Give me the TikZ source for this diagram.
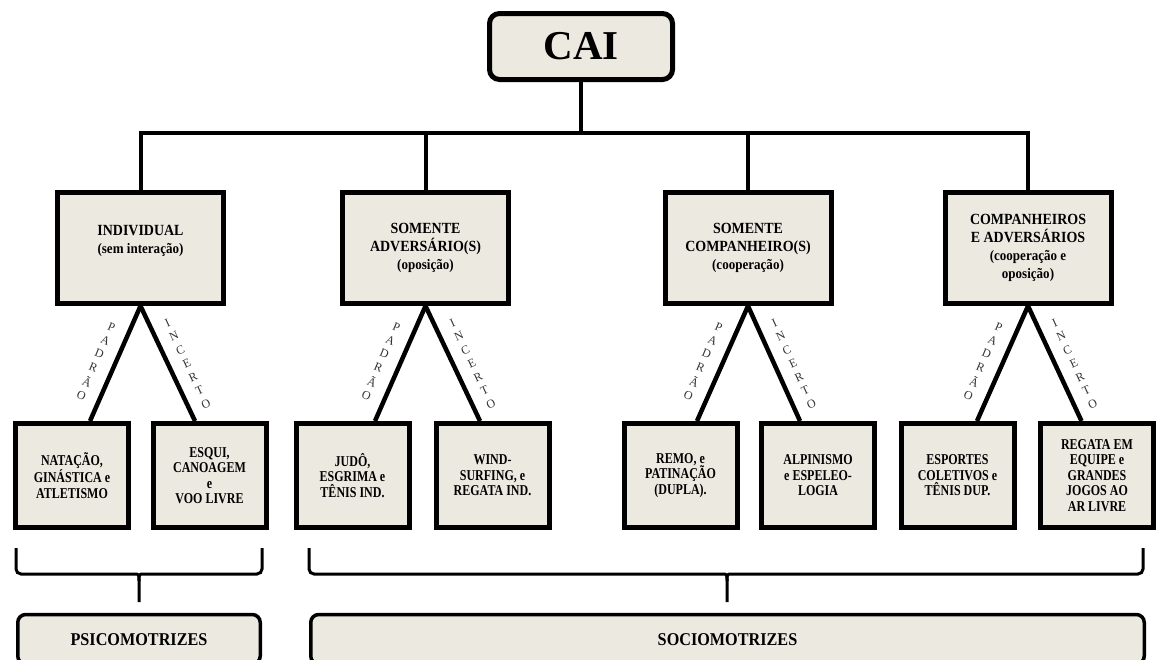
\documentclass[tikz,border=0pt]{standalone}
\usepackage{fontspec}
\setmainfont{Liberation Serif}
\newfontfamily\condserif[FakeStretch=0.8]{Liberation Serif}
\newfontfamily\semicond[FakeStretch=0.9]{Liberation Serif}
\usetikzlibrary{calc}
\definecolor{boxfill}{RGB}{236,233,224}
\begin{document}
\begin{tikzpicture}[x=1pt,y=-1pt,
  box/.style={draw=black, fill=boxfill, line width=5pt, align=center, inner sep=2pt},
  topbox/.style={box, rounded corners=10pt, minimum width=183pt, minimum height=66pt, font=\fontsize{41}{44}\selectfont\bfseries},
  catbox/.style={box, minimum width=166pt, minimum height=111pt, font=\semicond\fontsize{15.5}{18}\selectfont\bfseries},
  sportbox/.style={box, minimum width=113pt, minimum height=104pt, font=\condserif\fontsize{15}{15.5}\selectfont\bfseries},
  groupbox/.style={box, line width=3.5pt, rounded corners=8pt, minimum height=49.5pt, font=\semicond\fontsize{18}{18}\selectfont\bfseries},
  link/.style={line width=4pt},
  leg/.style={line width=4.5pt},
  brace/.style={line width=3pt, rounded corners=5pt},
  lbl/.style={font=\fontsize{12}{12}\selectfont, text=black!80, inner sep=0pt}
]
\useasboundingbox (0,0) rectangle (1158,659);
\clip (0,0) rectangle (1158,659);

% top
\node[topbox] (cai) at (581,46.5) {CAI};

% categories
\node[catbox] (l2a) at (140.5,248) {INDIVIDUAL\\{\fontsize{14.5}{18}\selectfont (sem interação)}\\\mbox{}};
\node[catbox] (l2b) at (425.5,248) {SOMENTE\\ADVERSÁRIO(S)\\{\fontsize{14.5}{18}\selectfont (oposição)}};
\node[catbox] (l2c) at (748,248) {SOMENTE\\COMPANHEIRO(S)\\{\fontsize{14.5}{18}\selectfont (cooperação)}};
\node[catbox] (l2d) at (1028,248) {COMPANHEIROS\\E ADVERSÁRIOS\\{\fontsize{14.5}{17}\selectfont (cooperação e}\\{\fontsize{14.5}{17}\selectfont oposição)}};

% sports
\node[sportbox] (s1) at (72,475.5) {NATAÇÃO,\\GINÁSTICA e\\ATLETISMO};
\node[sportbox] (s2) at (209.5,475.5) {ESQUI,\\CANOAGEM\\e\\VOO LIVRE};
\node[sportbox] (s3) at (352.5,475.5) {JUDÔ,\\ESGRIMA e\\TÊNIS IND.};
\node[sportbox] (s4) at (492.5,475.5) {WIND-\\SURFING, e\\REGATA IND.};
\node[sportbox] (s5) at (680.5,475.5) {REMO, e\\PATINAÇÃO\\(DUPLA).};
\node[sportbox] (s6) at (818,475.5) {ALPINISMO\\e ESPELEO-\\LOGIA};
\node[sportbox] (s7) at (957.5,475.5) {ESPORTES\\COLETIVOS e\\TÊNIS DUP.};
\node[sportbox] (s8) at (1097,475.5) {REGATA EM\\EQUIPE e\\GRANDES\\JOGOS AO\\AR LIVRE};

% groups
\node[groupbox, minimum width=242.5pt] (psico) at (139,639.25) {PSICOMOTRIZES};
\node[groupbox, minimum width=833.5pt] (socio) at (727.5,639.25) {SOCIOMOTRIZES};

% bus
\draw[link] (cai.south) -- ++(0,51) coordinate (bus);
\draw[link] (l2a.north) |- (bus) -| (l2d.north);
\draw[link] (l2b.north) -- (l2b.north |- bus);
\draw[link] (l2c.north) -- (l2c.north |- bus);

% leg ends
\coordinate (e1) at ($(s1.north)+(18,0)$);
\coordinate (e2) at ($(s2.north)+(-14.5,0)$);
\coordinate (e3) at ($(s3.north)+(22.5,0)$);
\coordinate (e4) at ($(s4.north)+(-12.5,0)$);
\coordinate (e5) at ($(s5.north)+(16.5,0)$);
\coordinate (e6) at ($(s6.north)+(-18,0)$);
\coordinate (e7) at ($(s7.north)+(19.5,0)$);
\coordinate (e8) at ($(s8.north)+(-15.5,0)$);

\foreach \p/\l/\r in {l2a/e1/e2, l2b/e3/e4, l2c/e5/e6, l2d/e7/e8}{
  \draw[leg] (\p.south) -- (\l);
  \draw[leg] (\p.south) -- (\r);
  \foreach \ch [count=\i, evaluate=\i as \t using 0.18+(\i-1)*0.119] in {P,A,D,R,Ã,O}
    \node[lbl, rotate=-23] (\p-pad-\i) at ($(\p.south)!\t!(\l)+(-20,0)$) {\ch};
  \foreach \ch [count=\i, evaluate=\i as \t using 0.145+(\i-1)*0.118] in {I,N,C,E,R,T,O}
    \node[lbl, rotate=25] (\p-inc-\i) at ($(\p.south)!\t!(\r)+(19,0)$) {\ch};
}

% brackets
\draw[brace] (16,548) -- (16,574) -- (134,574);
\draw[brace] (262,548) -- (262,574) -- (144,574);
\draw[line width=3pt] (134,574) .. controls (139,574) .. (139,581) -- (139,602);
\draw[line width=3pt] (144,574) .. controls (139,574) .. (139,581);

\draw[brace] (309,548) -- (309,574) -- (722,574);
\draw[brace] (1143,548) -- (1143,574) -- (732,574);
\draw[line width=3pt] (722,574) .. controls (727,574) .. (727,581) -- (727,602);
\draw[line width=3pt] (732,574) .. controls (727,574) .. (727,581);
\end{tikzpicture}
\end{document}
